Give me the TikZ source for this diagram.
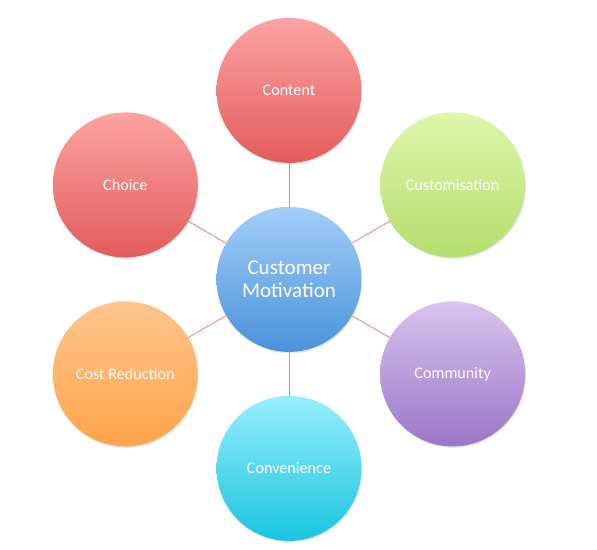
\documentclass[tikz,border=0pt]{standalone}
\usepackage{fontspec}
\setmainfont{Carlito}
\usetikzlibrary{shadows}
\definecolor{redtop}{RGB}{251,163,163}
\definecolor{redbot}{RGB}{228,92,92}
\definecolor{greentop}{RGB}{224,246,172}
\definecolor{greenbot}{RGB}{180,222,110}
\definecolor{purptop}{RGB}{216,196,238}
\definecolor{purpbot}{RGB}{155,118,198}
\definecolor{cyantop}{RGB}{152,238,252}
\definecolor{cyanbot}{RGB}{25,196,224}
\definecolor{orgtop}{RGB}{255,197,142}
\definecolor{orgbot}{RGB}{255,164,74}
\definecolor{bluetop}{RGB}{162,206,248}
\definecolor{bluebot}{RGB}{74,147,219}
\definecolor{linkred}{RGB}{226,132,132}
\begin{document}
\begin{tikzpicture}[font=\fontsize{11.5}{13}\selectfont, line join=round, line cap=round,
	bubble/.style={circle, minimum size=3.625cm, inner sep=0pt, text=white, align=center,
		drop shadow={opacity=0.2, shadow xshift=0.5pt, shadow yshift=-1pt}},
	link/.style={draw=linkred, line width=0.6pt}]
	\useasboundingbox (0,0) rectangle (14.925,13.725);
	\node[bubble, top color=bluetop, bottom color=bluebot, font=\fontsize{15}{16.5}\selectfont]
		(motiv) at (7.225,6.74) {Customer\\Motivation};
	\node[bubble, top color=redtop, bottom color=redbot] (content) at ([shift={(90:4.725)}]motiv.center) {Content};
	\node[bubble, top color=greentop, bottom color=greenbot] (custom) at ([shift={(30:4.725)}]motiv.center) {Customisation};
	\node[bubble, top color=purptop, bottom color=purpbot] (commun) at ([shift={(-30:4.725)}]motiv.center) {Community};
	\node[bubble, top color=cyantop, bottom color=cyanbot] (conven) at ([shift={(-90:4.725)}]motiv.center) {Convenience};
	\node[bubble, top color=orgtop, bottom color=orgbot] (cost) at ([shift={(210:4.725)}]motiv.center) {Cost Reduction};
	\node[bubble, top color=redtop, bottom color=redbot] (choice) at ([shift={(150:4.725)}]motiv.center) {Choice};
	\foreach \n in {content,custom,commun,conven,cost,choice}
		\draw[link] (motiv) -- (\n);
\end{tikzpicture}
\end{document}
